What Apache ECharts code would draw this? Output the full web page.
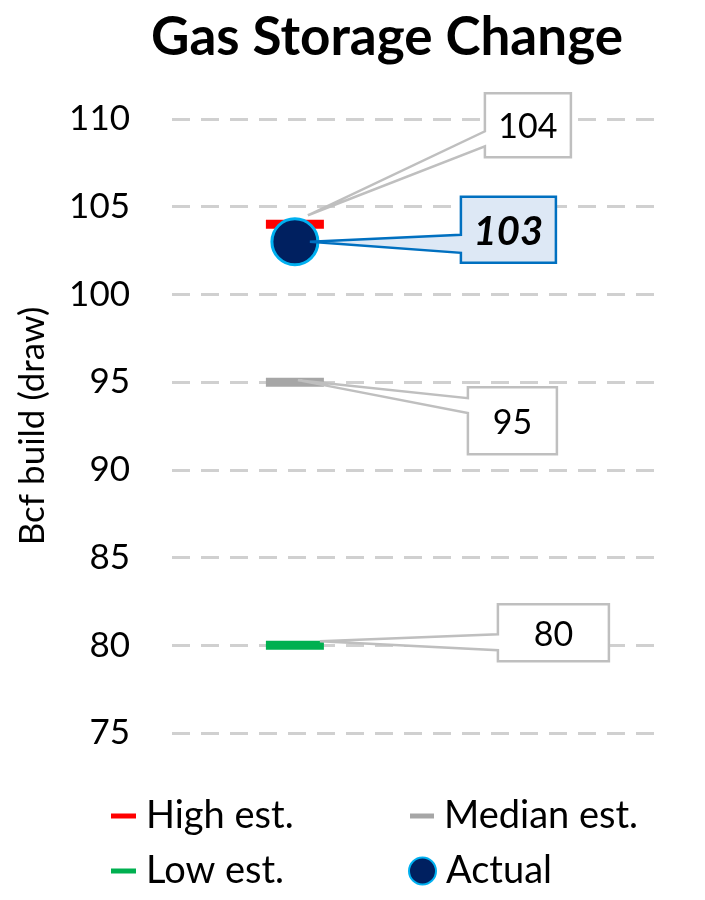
<!DOCTYPE html>
<html>
<head>
<meta charset="utf-8">
<script src="https://cdn.jsdelivr.net/npm/echarts@6/dist/echarts.min.js"></script>
<style>
html,body{margin:0;padding:0;background:#fff;}
#chart{width:705px;height:900px;}
</style>
</head>
<body>
<div id="chart"></div>
<script>
// ---- data ----
const chartTitle = 'Gas Storage Change';
const yAxisName = 'Bcf build (draw)';
const seriesNames = ['High est.', 'Median est.', 'Low est.', 'Actual'];
const highEst = [104];
const medianEst = [95];
const lowEst = [80];
const actual = [103];
const yMin = 75, yMax = 110, yStep = 5;
const xPos = 1; // single observation position on hidden x axis

// ---- layout of callouts (pixel offsets relative to the point) ----
const calloutLayout = {
  'High est.':   {box: [190, -131, 276, -67], attach: [-93, -78], tip: [13, -9], stroke: '#bfbfbf', fill: '#ffffff', font: '34px Lato', color: '#000'},
  'Actual':      {box: [166, -45, 261, 21], attach: [-7, 11], tip: [15, 0], stroke: '#0070c0', fill: '#dde8f5', font: 'italic bold 40px Lato', color: '#000'},
  'Median est.': {box: [173, 5, 262, 72], attach: [16, 31], tip: [3, -2], stroke: '#bfbfbf', fill: '#ffffff', font: '34px Lato', color: '#000'},
  'Low est.':    {box: [203, -41, 314, 16], attach: [-11, 5], tip: [25, -4], stroke: '#bfbfbf', fill: '#ffffff', font: '34px Lato', color: '#000'}
};

const calloutData = [
  [xPos, highEst[0], 'High est.'],
  [xPos, actual[0], 'Actual'],
  [xPos, medianEst[0], 'Median est.'],
  [xPos, lowEst[0], 'Low est.']
];

const chart = echarts.init(document.getElementById('chart'));
const FONT = 'Lato';

function dashSeries(name, vals, color) {
  return {
    name: name, type: 'scatter',
    data: vals.map(v => [xPos, v]),
    symbol: 'rect', symbolSize: [58, 9],
    itemStyle: {color: color, opacity: 1},
    z: 2
  };
}

function legendItem(name, left, top, icon, w, h) {
  return {
    data: [name], left: left, top: top, icon: icon,
    itemWidth: w, itemHeight: h, selectedMode: false,
    textStyle: {fontFamily: FONT, fontSize: 38, lineHeight: 40, color: '#000', padding: [0, 0, 0, 5]}
  };
}

const option = {
  backgroundColor: '#fff',
  animation: false,
  title: {
    text: chartTitle, left: 382, top: 6, textAlign: 'center',
    textStyle: {fontFamily: FONT, fontWeight: 'bold', fontSize: 53, color: '#000'}
  },
  legend: [
    legendItem('High est.', 106, 791, 'rect', 25, 5),
    legendItem('Median est.', 405, 791, 'rect', 24, 5),
    legendItem('Low est.', 106, 846, 'rect', 25, 5),
    legendItem('Actual', 403, 846, 'circle', 27, 27)
  ],
  grid: {left: 172, right: 50, top: 119, bottom: 167},
  xAxis: {type: 'value', min: 0, max: 3.93, show: false},
  yAxis: {
    type: 'value', min: yMin, max: yMax, interval: yStep,
    name: yAxisName, nameLocation: 'middle', nameGap: 122,
    nameTextStyle: {fontFamily: FONT, fontSize: 35, color: '#000'},
    axisLine: {show: false}, axisTick: {show: false},
    axisLabel: {fontFamily: FONT, fontSize: 35, color: '#000', margin: 42},
    splitLine: {lineStyle: {color: '#d0d0d0', width: 3, type: [18, 11]}}
  },
  series: [
    dashSeries('High est.', highEst, '#ff0000'),
    dashSeries('Median est.', medianEst, '#a6a6a6'),
    dashSeries('Low est.', lowEst, '#00b050'),
    {
      name: 'Actual', type: 'scatter',
      data: actual.map(v => [xPos, v]),
      symbol: 'circle', symbolSize: 46,
      itemStyle: {color: '#002060', borderColor: '#00b0f0', borderWidth: 3, opacity: 1},
      z: 3
    },
    {
      type: 'custom', name: 'callouts', z: 5, silent: true,
      data: calloutData,
      encode: {x: 0, y: 1},
      renderItem: function (params, api) {
        const d = calloutData[params.dataIndex];
        const p = api.coord([d[0], d[1]]);
        const L = calloutLayout[d[2]];
        const x0 = p[0] + L.box[0], y0 = p[1] + L.box[1];
        const x1 = p[0] + L.box[2], y1 = p[1] + L.box[3];
        const pts = [
          [x0, y0], [x1, y0], [x1, y1], [x0, y1],
          [x0, p[1] + L.attach[1]],
          [p[0] + L.tip[0], p[1] + L.tip[1]],
          [x0, p[1] + L.attach[0]]
        ];
        return {
          type: 'group',
          children: [
            {type: 'polygon', shape: {points: pts},
             style: {fill: L.fill, stroke: L.stroke, lineWidth: 2.5, lineJoin: 'miter'}},
            {type: 'text', style: {text: String(d[1]), x: (x0 + x1) / 2, y: (y0 + y1) / 2 + 2,
              align: 'center', verticalAlign: 'middle', font: L.font, fill: L.color}}
          ]
        };
      }
    }
  ]
};
chart.setOption(option);
</script>
</body>
</html>
